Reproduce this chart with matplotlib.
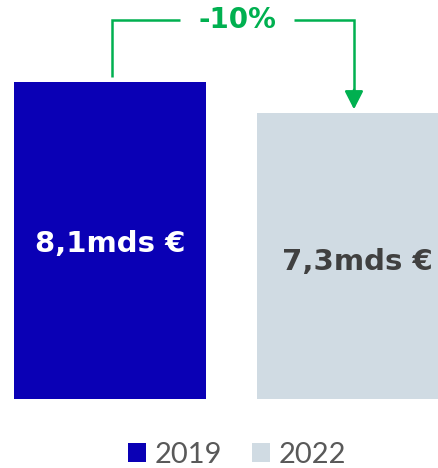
import matplotlib
matplotlib.use("Agg")
import matplotlib.pyplot as plt
from matplotlib.patches import Patch

years = ["2019", "2022"]
values = [8.1, 7.3]
labels = ["8,1mds €", "7,3mds €"]
change_label = "-10%"

colors = ["#0a00b5", "#d0dbe3"]
label_colors = ["#ffffff", "#404040"]
green = "#00b050"

W, H = 439, 468
fig = plt.figure(figsize=(W / 100, H / 100), dpi=100)
unit_x = 243.0
x0_px = 110.0
base_px = 398.7  # from top
unit_y = 39.1
bottom = (H - base_px) / H
ax = fig.add_axes([0, bottom, 1, base_px / H])
ax.set_xlim(-x0_px / unit_x, (W - x0_px) / unit_x)
ax.set_ylim(0, base_px / unit_y)
ax.axis("off")

xs = list(range(len(values)))
bars = ax.bar(xs, values, width=0.79, color=colors, linewidth=0)

label_y = [values[0] * 0.49, values[1] * 0.48]
for x, v, lab, c, ly in zip(xs, values, labels, label_colors, label_y):
    ax.text(x + (0.0 if x == 0 else 0.02), ly, lab, ha="center", va="center",
            color=c, fontsize=21, fontweight="heavy", family="DejaVu Sans")

# bracket
top_y = (base_px - 20) / unit_y
gap_l = (180 - x0_px) / unit_x
gap_r = (294 - x0_px) / unit_x
x_l = 0.008
x_r = 1.004
ax.plot([x_l, x_l, gap_l], [values[0] + 0.13, top_y, top_y], color=green, lw=1.8,
        solid_capstyle="butt", solid_joinstyle="miter", clip_on=False)
ax.plot([gap_r, x_r, x_r], [top_y, top_y, values[1] + 0.5], color=green, lw=1.8,
        solid_capstyle="butt", solid_joinstyle="miter", clip_on=False)
ax.annotate("", xy=(x_r, values[1] + 0.1), xytext=(x_r, values[1] + 0.6),
            arrowprops=dict(arrowstyle="-|>,head_length=0.55,head_width=0.28",
                            color=green, lw=1.8, mutation_scale=20, shrinkA=0, shrinkB=0))
ax.text((gap_l + gap_r) / 2, top_y, change_label, ha="center", va="center",
        color=green, fontsize=20, fontweight="heavy", family="DejaVu Sans")

handles = [Patch(facecolor=c, edgecolor="none") for c in colors]
fig.legend(handles, years, loc="center", bbox_to_anchor=(237 / W, 1 - 455 / H),
           ncol=2, frameon=False, handlelength=0.62, handleheight=0.62,
           handletextpad=0.3, columnspacing=1.0,
           prop=dict(family="Lato", weight="normal", size=21), labelcolor="#595959")

fig.savefig("out.png", dpi=100)
